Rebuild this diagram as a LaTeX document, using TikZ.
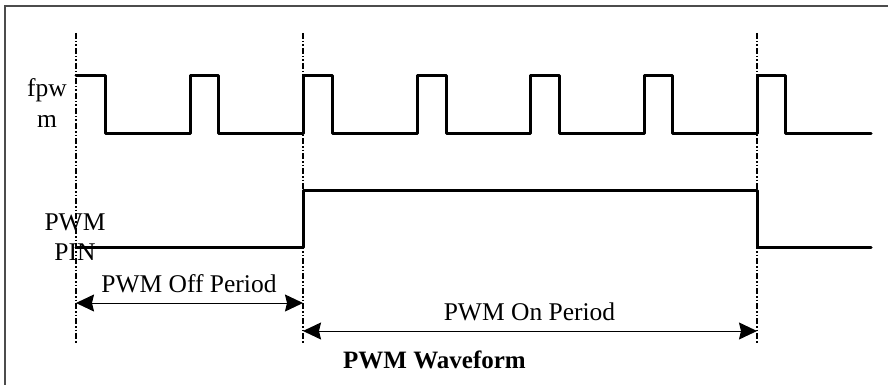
\documentclass[tikz,border=0pt]{standalone}
\usepackage{fontspec}
\setmainfont{Liberation Serif}
\usetikzlibrary{arrows.meta}
\begin{document}
\begin{tikzpicture}[x=1pt,y=-1pt,
  lbl/.style={inner sep=0pt,anchor=base,font=\fontsize{25.5}{30}\selectfont},
  ttl/.style={inner sep=0pt,anchor=base,font=\fontsize{25}{30}\selectfont\bfseries},
  sig/.style={line width=3pt,line join=round,line cap=round},
  guide/.style={line width=1.4pt,dash pattern=on 6pt off 2pt on 1.5pt off 2pt on 1.5pt off 2pt},
  dim/.style={line width=1pt,{Stealth[length=18pt,width=17pt,inset=2pt]}-{Stealth[length=18pt,width=17pt,inset=2pt]}},
  frame/.style={line width=1.5pt,draw=black!70}]
\useasboundingbox (0,0) rectangle (888,385);
% frame
\draw[frame] (5,385) -- (5,6) -- (888,6);
% guides
\coordinate (g1t) at (76,33);  \coordinate (g1b) at (76,343);
\coordinate (g2t) at (303,33); \coordinate (g2b) at (303,343);
\coordinate (g3t) at (757,33); \coordinate (g3b) at (757,343);
\draw[guide] (g1t) -- (g1b);
\draw[guide] (g2t) -- (g2b);
\draw[guide] (g3t) -- (g3b);
% fpwm signal
\draw[sig] (76,76) -- (105,76) -- (105,133)
  -- (190,133) -- (190,76) -- (218,76) -- (218,133)
  -- (303,133) -- (303,76) -- (332,76) -- (332,133)
  -- (417,133) -- (417,76) -- (446,76) -- (446,133)
  -- (530,133) -- (530,76) -- (559,76) -- (559,133)
  -- (644,133) -- (644,76) -- (672,76) -- (672,133)
  -- (757,133) -- (757,76) -- (785,76) -- (785,133)
  -- (871,133);
% PWM PIN signal
\draw[sig] (76,247) -- (303,247) -- (303,190) -- (757,190) -- (757,247) -- (871,247);
% labels
\node[lbl] (fp1) at (47,97) {fpw};
\node[lbl] (fp2) at (47,128) {m};
\node[lbl] (pp1) at (75,230) {PWM};
\node[lbl] (pp2) at (75,260) {PIN};
% dimension arrows
\coordinate (offL) at (76,303); \coordinate (offR) at (303,303);
\coordinate (onL) at (303,331); \coordinate (onR) at (757,331);
\draw[dim] (offL) -- (offR);
\draw[dim] (onL) -- (onR);
\node[lbl] (offlbl) at (189,292) {PWM Off Period};
\node[lbl] (onlbl) at (529.5,320) {PWM On Period};
\node[ttl] (title) at (434.5,368) {PWM Waveform};
\end{tikzpicture}
\end{document}
